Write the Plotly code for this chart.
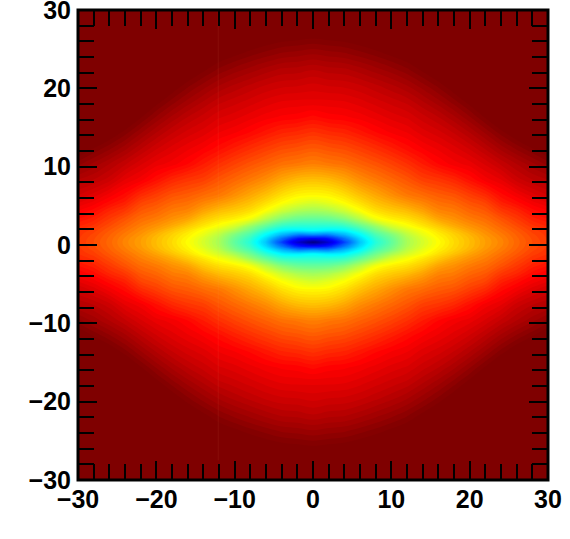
import numpy as np
import plotly.graph_objects as go

# distance from the centre, the picture is symmetric so one quadrant is read
x_dist = [0, 2, 4, 6, 8, 10, 12, 14, 16, 18, 20, 22, 24, 26, 28, 30]
y_dist = [0, .5, 1, 1.5, 2, 3, 4, 5, 6, 8, 10, 12, 14, 16, 18, 20, 22, 24, 26, 28, 31]
y_centre = 0.35

# one list per x_dist, values follow y_dist (position on the jet scale, above 1 is flat dark red)
col_00 = [0, .125, .27, .375, .41, .475, .535, .585, .63, .6875, .75, .789, .828, .867, .898, .917, .94, .97, 1.0, 1.03, 1.07]
col_02 = [.08, .15, .26, .36, .41, .48, .545, .60, .635, .694, .758, .797, .836, .875, .898, .921, .945, .974, 1.003, 1.03, 1.07]
col_04 = [.19, .24, .31, .37, .42, .505, .575, .625, .655, .712, .765, .804, .842, .878, .90, .923, .947, .977, 1.006, 1.03, 1.07]
col_06 = [.32, .34, .375, .42, .465, .555, .62, .655, .685, .738, .78, .817, .855, .885, .907, .929, .955, .985, 1.012, 1.04, 1.08]
col_08 = [.41, .425, .45, .485, .52, .615, .655, .685, .71, .757, .795, .832, .869, .894, .916, .938, .965, .993, 1.02, 1.045, 1.08]
col_10 = [.47, .48, .50, .54, .58, .64, .675, .705, .735, .775, .811, .848, .881, .904, .925, .948, .975, 1.003, 1.03, 1.055, 1.09]
col_12 = [.54, .545, .56, .585, .615, .655, .69, .725, .757, .793, .829, .865, .89, .912, .934, .96, .987, 1.013, 1.04, 1.065, 1.10]
col_14 = [.585, .59, .605, .62, .645, .68, .715, .745, .77, .815, .85, .88, .905, .926, .95, .976, 1.003, 1.03, 1.055, 1.08, 1.11]
col_16 = [.625, .63, .64, .655, .675, .715, .745, .765, .785, .825, .87, .893, .916, .94, .967, .993, 1.02, 1.045, 1.07, 1.095, 1.13]
col_18 = [.66, .663, .67, .685, .705, .735, .755, .775, .795, .84, .885, .906, .931, .958, .986, 1.013, 1.04, 1.07, 1.095, 1.12, 1.15]
col_20 = [.69, .692, .70, .715, .73, .755, .775, .795, .815, .862, .895, .922, .95, .979, 1.007, 1.035, 1.06, 1.09, 1.115, 1.14, 1.17]
col_22 = [.72, .722, .73, .74, .75, .77, .79, .81, .835, .885, .912, .942, .972, 1.002, 1.03, 1.06, 1.085, 1.11, 1.14, 1.165, 1.2]
col_24 = [.745, .748, .755, .765, .775, .795, .82, .845, .865, .90, .932, .964, .995, 1.025, 1.055, 1.08, 1.11, 1.135, 1.16, 1.19, 1.22]
col_26 = [.775, .777, .782, .79, .80, .82, .84, .865, .885, .925, .95, .983, 1.015, 1.045, 1.075, 1.10, 1.13, 1.155, 1.18, 1.21, 1.24]
col_28 = [.80, .802, .807, .815, .825, .845, .865, .885, .905, .94, .967, 1.0, 1.03, 1.06, 1.09, 1.12, 1.145, 1.17, 1.2, 1.225, 1.26]
col_30 = [.82, .822, .825, .83, .84, .86, .88, .90, .92, .95, .984, 1.02, 1.05, 1.08, 1.11, 1.135, 1.16, 1.19, 1.215, 1.24, 1.28]

tick_vals = [-30, -20, -10, 0, 10, 20, 30]
faint_line_x = [-12.1, -12.1]
faint_line_y = [-27.5, 30]

quadrant = np.array([col_00, col_02, col_04, col_06, col_08, col_10, col_12, col_14,
                     col_16, col_18, col_20, col_22, col_24, col_26, col_28, col_30]).T

# mirror the quadrant out to the full plane
right = np.vstack([quadrant[:0:-1], quadrant])
z = np.hstack([right[:, :0:-1], right])
x = [-d for d in x_dist[:0:-1]] + x_dist
y = [y_centre - d for d in y_dist[:0:-1]] + [y_centre + d for d in y_dist]

jet = [[0, '#00007f'], [.125, '#0000ff'], [.375, '#00ffff'], [.625, '#ffff00'], [.875, '#ff0000'], [1, '#7f0000']]

fig = go.Figure()
fig.add_trace(go.Contour(x=x, y=y, z=z, colorscale=jet, zmin=0, zmax=1, showscale=False,
                         autocontour=False, contours=dict(start=0, end=1, size=.01, coloring='fill', showlines=False),
                         line=dict(width=0, smoothing=1), hoverinfo='skip'))
fig.add_trace(go.Scatter(x=faint_line_x, y=faint_line_y, mode='lines', showlegend=False, hoverinfo='skip',
                         line=dict(color='rgba(255,170,120,0.08)', width=1)))

axis_style = dict(range=[-30, 30], tickvals=tick_vals, ticks='inside', ticklen=19, tickwidth=2, tickcolor='black',
                  showline=False, mirror='ticks', showgrid=False, zeroline=False, ticklabeloverflow='allow',
                  minor=dict(dtick=2, tick0=0, ticks='inside', ticklen=16, tickwidth=2, tickcolor='black', showgrid=False),
                  tickfont=dict(family='Liberation Sans', size=25, color='black', weight='bold'))

fig.update_layout(width=570, height=539, autosize=False, showlegend=False,
                  margin=dict(l=77.6, r=22.4, t=9.7, b=59.3, autoexpand=False),
                  paper_bgcolor='white', plot_bgcolor='white',
                  xaxis=dict(axis_style, ticklabelstandoff=2), yaxis=dict(axis_style, ticklabelstandoff=6))
# frame sits centred on the plot edge
fig.add_shape(type='rect', xref='x domain', yref='y domain', x0=0, x1=1, y0=0, y1=1,
              line=dict(color='black', width=3), layer='above')

fig.write_html("out.html", config=dict(displayModeBar=False), post_script="document.body.style.margin='0';")
